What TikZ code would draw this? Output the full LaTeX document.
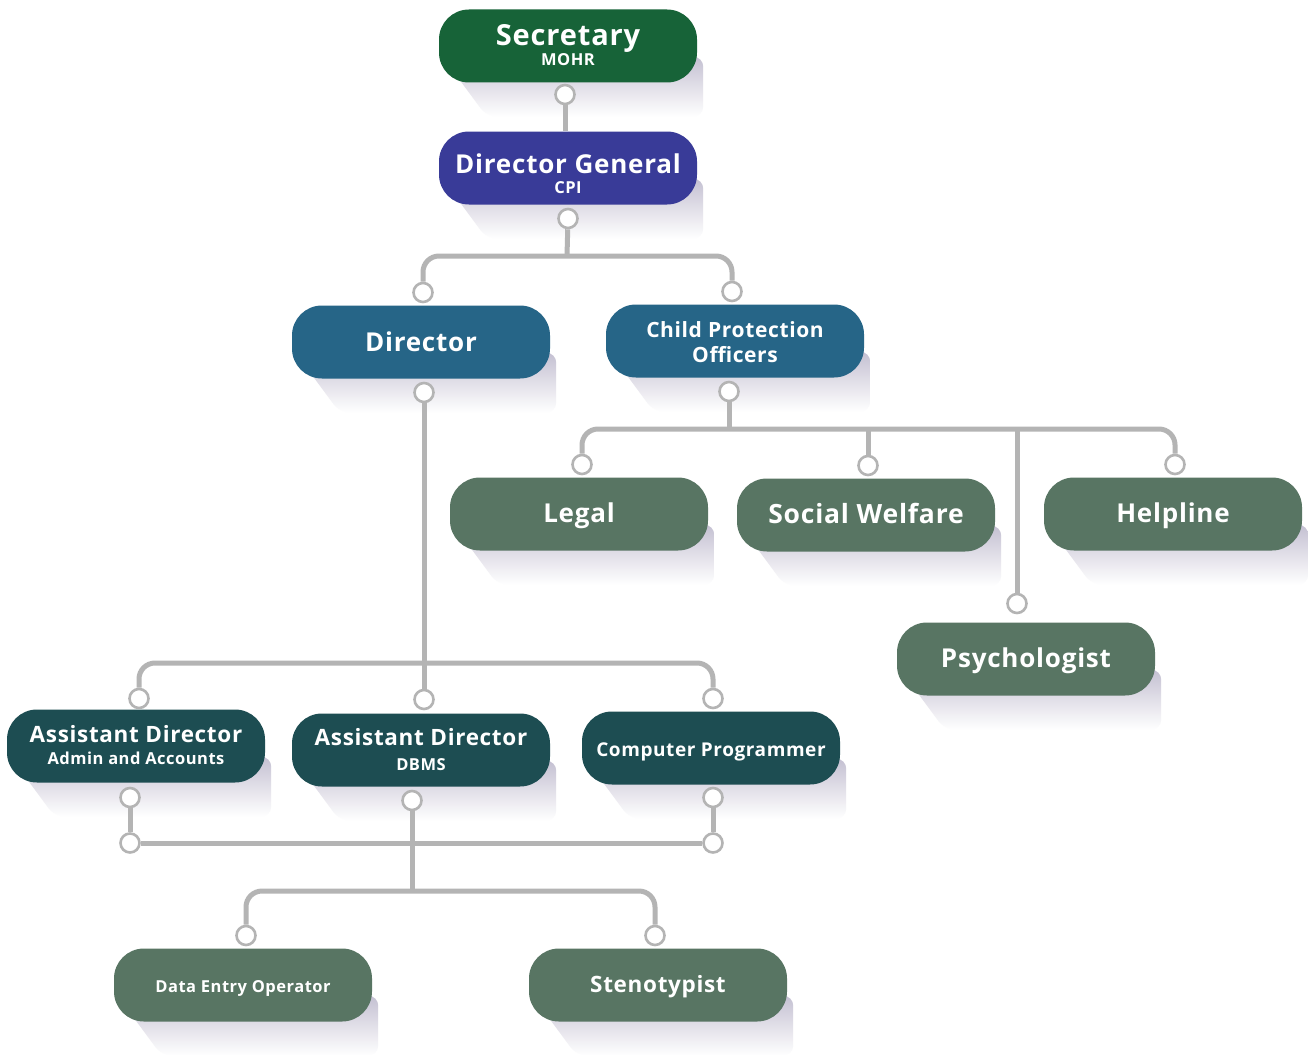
\documentclass[tikz,border=0pt]{standalone}
\usepackage{fontspec}
\newfontfamily\chartfont{Open Sans}[LetterSpace=3.0]
\usetikzlibrary{positioning,calc,backgrounds}

\definecolor{secgreen}{RGB}{23,99,56}
\definecolor{dgblue}{RGB}{57,59,152}
\definecolor{dirblue}{RGB}{38,101,135}
\definecolor{unitgreen}{RGB}{88,117,99}
\definecolor{adteal}{RGB}{29,77,82}
\definecolor{linkgray}{RGB}{180,180,180}
\definecolor{shadowcol}{RGB}{196,192,210}

\newcommand\sizesub{\fontsize{16.5}{16.5}\selectfont}

\tikzset{
  post/.style={rounded corners=30, minimum width=258, minimum height=73,
    inner sep=0pt, text=white, align=center, text height=16pt, text depth=0pt},
  secpost/.style={post, fill=secgreen},
  dgpost/.style={post, fill=dgblue},
  dirpost/.style={post, fill=dirblue},
  unitpost/.style={post, fill=unitgreen},
  adpost/.style={post, fill=adteal},
  sz/.style 2 args={font=\chartfont\bfseries\fontsize{#1}{#2}\selectfont},
  knob/.style={circle, draw=linkgray, fill=white, line width=2.6,
    minimum size=19, inner sep=0pt},
  link/.style={draw=linkgray, line width=5},
}

\begin{document}
\begin{tikzpicture}[x=1pt, y=-1pt]
\useasboundingbox (0,0) rectangle (1308,1054);

% boxes
\node[secpost, sz={29}{20}, text height=39pt] (sec) at (568,46) {Secretary\\{\sizesub MOHR}};
\node[dgpost, sz={26}{20}, text height=50pt] (dg) at (568,168) {Director General\\{\sizesub CPI}};
\node[dirpost, sz={26}{28}, text height=18pt] (dir) at (421,342) {Director};
\node[dirpost, sz={21}{25}, text height=42pt] (cpo) at (735,341) {Child Protection\\Officers};
\node[unitpost, sz={26}{28}] (legal) at (579,514) {Legal};
\node[unitpost, sz={26.5}{28}] (sw) at (866,515) {Social Welfare};
\node[unitpost, sz={26}{28}] (help) at (1173,514) {Helpline};
\node[unitpost, sz={26}{28}] (psy) at (1026,659) {Psychologist};
\node[adpost, sz={22.5}{22}, text height=37pt] (ad1) at (136,746) {Assistant Director\\{\sizesub Admin and Accounts}};
\node[adpost, sz={22.5}{25}, text height=41pt] (ad2) at (421,750) {Assistant Director\\{\sizesub DBMS}};
\node[adpost, sz={19}{20}, text height=17pt] (cp) at (711,748) {Computer Programmer};
\node[unitpost, sz={16.5}{18}, text height=15pt] (deo) at (243,985) {Data Entry Operator};
\node[unitpost, sz={22.5}{24}, text height=14pt] (st) at (658,985) {Stenotypist};

% shadows
\begin{scope}[on background layer]
\fill[white] (0,0) rectangle (1308,1054);
\foreach \b in {sec,dg,dir,cpo,legal,sw,help,psy,ad1,ad2,cp,deo,st}{
  \shade[top color=shadowcol, middle color=shadowcol, bottom color=white, rounded corners=10]
    ($(\b.south west)+(14,-12)$) -- ($(\b.south west)+(48,34)$) -- ($(\b.south east)+(6,34)$)
    -- ($(\b.south east)+(6,-26)$) -- ($(\b.south east)+(-30,-26)$) -- cycle;
}
\end{scope}

% knobs
\node[knob, below=1pt of sec, xshift=-3] (sec-k) {};
\node[knob, below=3pt of dg] (dg-k) {};
\node[knob, above=2pt of dir, xshift=2] (dir-t) {};
\node[knob, above=2pt of cpo, xshift=-3] (cpo-t) {};
\node[knob, below=3pt of dir, xshift=3] (dir-k) {};
\node[knob, below=3pt of cpo, xshift=-6] (cpo-k) {};
\node[knob, above=2pt of legal, xshift=3] (legal-t) {};
\node[knob, above=2pt of sw, xshift=2] (sw-t) {};
\node[knob, above=2pt of help, xshift=2] (help-t) {};
\node[knob, above=8pt of psy, xshift=-9] (psy-t) {};
\node[knob, above=0pt of ad1, xshift=3] (ad1-t) {};
\node[knob, above=3pt of ad2, xshift=3] (ad2-t) {};
\node[knob, above=2pt of cp, xshift=2] (cp-t) {};
\node[knob, below=4pt of ad1, xshift=-6] (ad1-k) {};
\node[knob, below=3pt of ad2, xshift=-9] (ad2-k) {};
\node[knob, below=2pt of cp, xshift=2] (cp-k) {};
\node[knob] (ad1-b) at (130,843) {};
\node[knob] (cp-b) at (713,843) {};
\node[knob, above=2pt of deo, xshift=3] (deo-t) {};
\node[knob, above=2pt of st, xshift=-3] (st-t) {};

% junctions
\coordinate (dg-j) at (567,256);
\coordinate (dir-j) at (424,663);
\coordinate (cpo-j) at (729,429);
\coordinate (ad2-j) at (412,891);

% connectors
\draw[link] (sec-k) -- (sec-k |- dg.north);
\draw[link] (dg-k) -- (dg-j);
\draw[link, rounded corners=16] (dir-t) |- (dg-j) -| (cpo-t);
\draw[link] (dir-k) -- (dir-j);
\draw[link, rounded corners=16] (ad1-t) |- (dir-j) -| (cp-t);
\draw[link] (dir-j) -- (ad2-t);
\draw[link] (cpo-k) -- (cpo-j);
\draw[link, rounded corners=16] (legal-t) |- (cpo-j) -| (help-t);
\draw[link] (sw-t) -- (sw-t |- cpo-j);
\draw[link] (psy-t) -- (psy-t |- cpo-j);
\draw[link] (ad1-k) -- (ad1-b);
\draw[link] (cp-k) -- (cp-b);
\draw[link] (ad1-b) -- (cp-b);
\draw[link] (ad2-k) -- (ad2-j);
\draw[link, rounded corners=16] (deo-t) |- (ad2-j) -| (st-t);

\end{tikzpicture}
\end{document}
